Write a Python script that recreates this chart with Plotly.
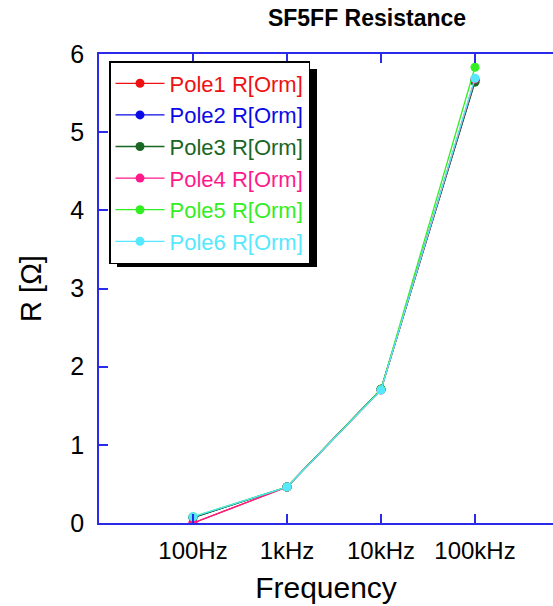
import plotly.graph_objects as go

freq_hz = [100, 1000, 10000, 100000]
tick_labels = ["100Hz", "1kHz", "10kHz", "100kHz"]

pole_names = ["Pole1 R[Orm]", "Pole2 R[Orm]", "Pole3 R[Orm]",
              "Pole4 R[Orm]", "Pole5 R[Orm]", "Pole6 R[Orm]"]
pole1 = [0.00, 0.46, 1.71, 5.66]
pole2 = [0.07, 0.46, 1.71, 5.66]
pole3 = [0.07, 0.46, 1.71, 5.64]
pole4 = [0.00, 0.46, 1.70, 5.68]
pole5 = [0.08, 0.46, 1.71, 5.83]
pole6 = [0.08, 0.46, 1.70, 5.69]
series = [pole1, pole2, pole3, pole4, pole5, pole6]
colors = ["#ee1111", "#0a0ae6", "#1a6624", "#ff1a8c", "#33ee22", "#55e8ff"]

fig = go.Figure()
for i, (name, vals, c) in enumerate(zip(pole_names, series, colors)):
    fig.add_trace(go.Scatter(
        x=freq_hz, y=vals, mode="lines+markers",
        name=f"<span style='color:{c}'>{name}</span>",
        legendgroup=f"g{i}",
        line=dict(color=c, width=1.3),
        marker=dict(color=c, size=9, symbol="circle"),
    ))

axis_blue = "#2a2ae8"
fig.update_layout(
    width=553, height=606,
    margin=dict(l=99, r=0, t=54, b=83),
    paper_bgcolor="white", plot_bgcolor="white",
    font=dict(family="Liberation Sans, Arial, sans-serif", color="black"),
    title=dict(text="<b>SF5FF Resistance</b>", x=367 / 553, xref="container",
               xanchor="center", y=1 - 18 / 606, yanchor="middle",
               font=dict(size=23, color="black")),
    xaxis=dict(type="log", range=[1, 5.83], tickvals=freq_hz, ticktext=tick_labels,
               ticks="inside", ticklen=9, tickcolor=axis_blue, tickwidth=1.5,
               showline=True, linecolor=axis_blue, linewidth=1.5, mirror="ticks",
               showgrid=False, zeroline=False,
               tickfont=dict(size=24, color="black"), ticklabelstandoff=5,
               title=dict(text="Frequency", font=dict(size=30), standoff=14)),
    yaxis=dict(range=[0, 6], dtick=1, ticks="inside", ticklen=9, tickcolor=axis_blue,
               tickwidth=1.5, showline=True, linecolor=axis_blue, linewidth=1.5,
               mirror=False, showgrid=False, zeroline=False,
               tickfont=dict(size=25, color="black"), ticklabelstandoff=8,
               title=dict(text="R [Ω]", font=dict(size=29), standoff=20)),
    legend=dict(x=10 / 454, xanchor="left", y=(523 - 61) / 469, yanchor="top",
                bgcolor="white", bordercolor="black", borderwidth=1.5,
                font=dict(size=22), itemwidth=49, tracegroupgap=0,
                traceorder="grouped"),
    showlegend=True,
)

# legend drop shadow
fig.add_shape(type="rect", xref="paper", yref="paper",
              x0=(117 - 99) / 454, x1=(317 - 99) / 454,
              y0=(523 - 267) / 469, y1=(523 - 69) / 469,
              fillcolor="black", line=dict(width=0), layer="above")

fig.write_html("out.html")
